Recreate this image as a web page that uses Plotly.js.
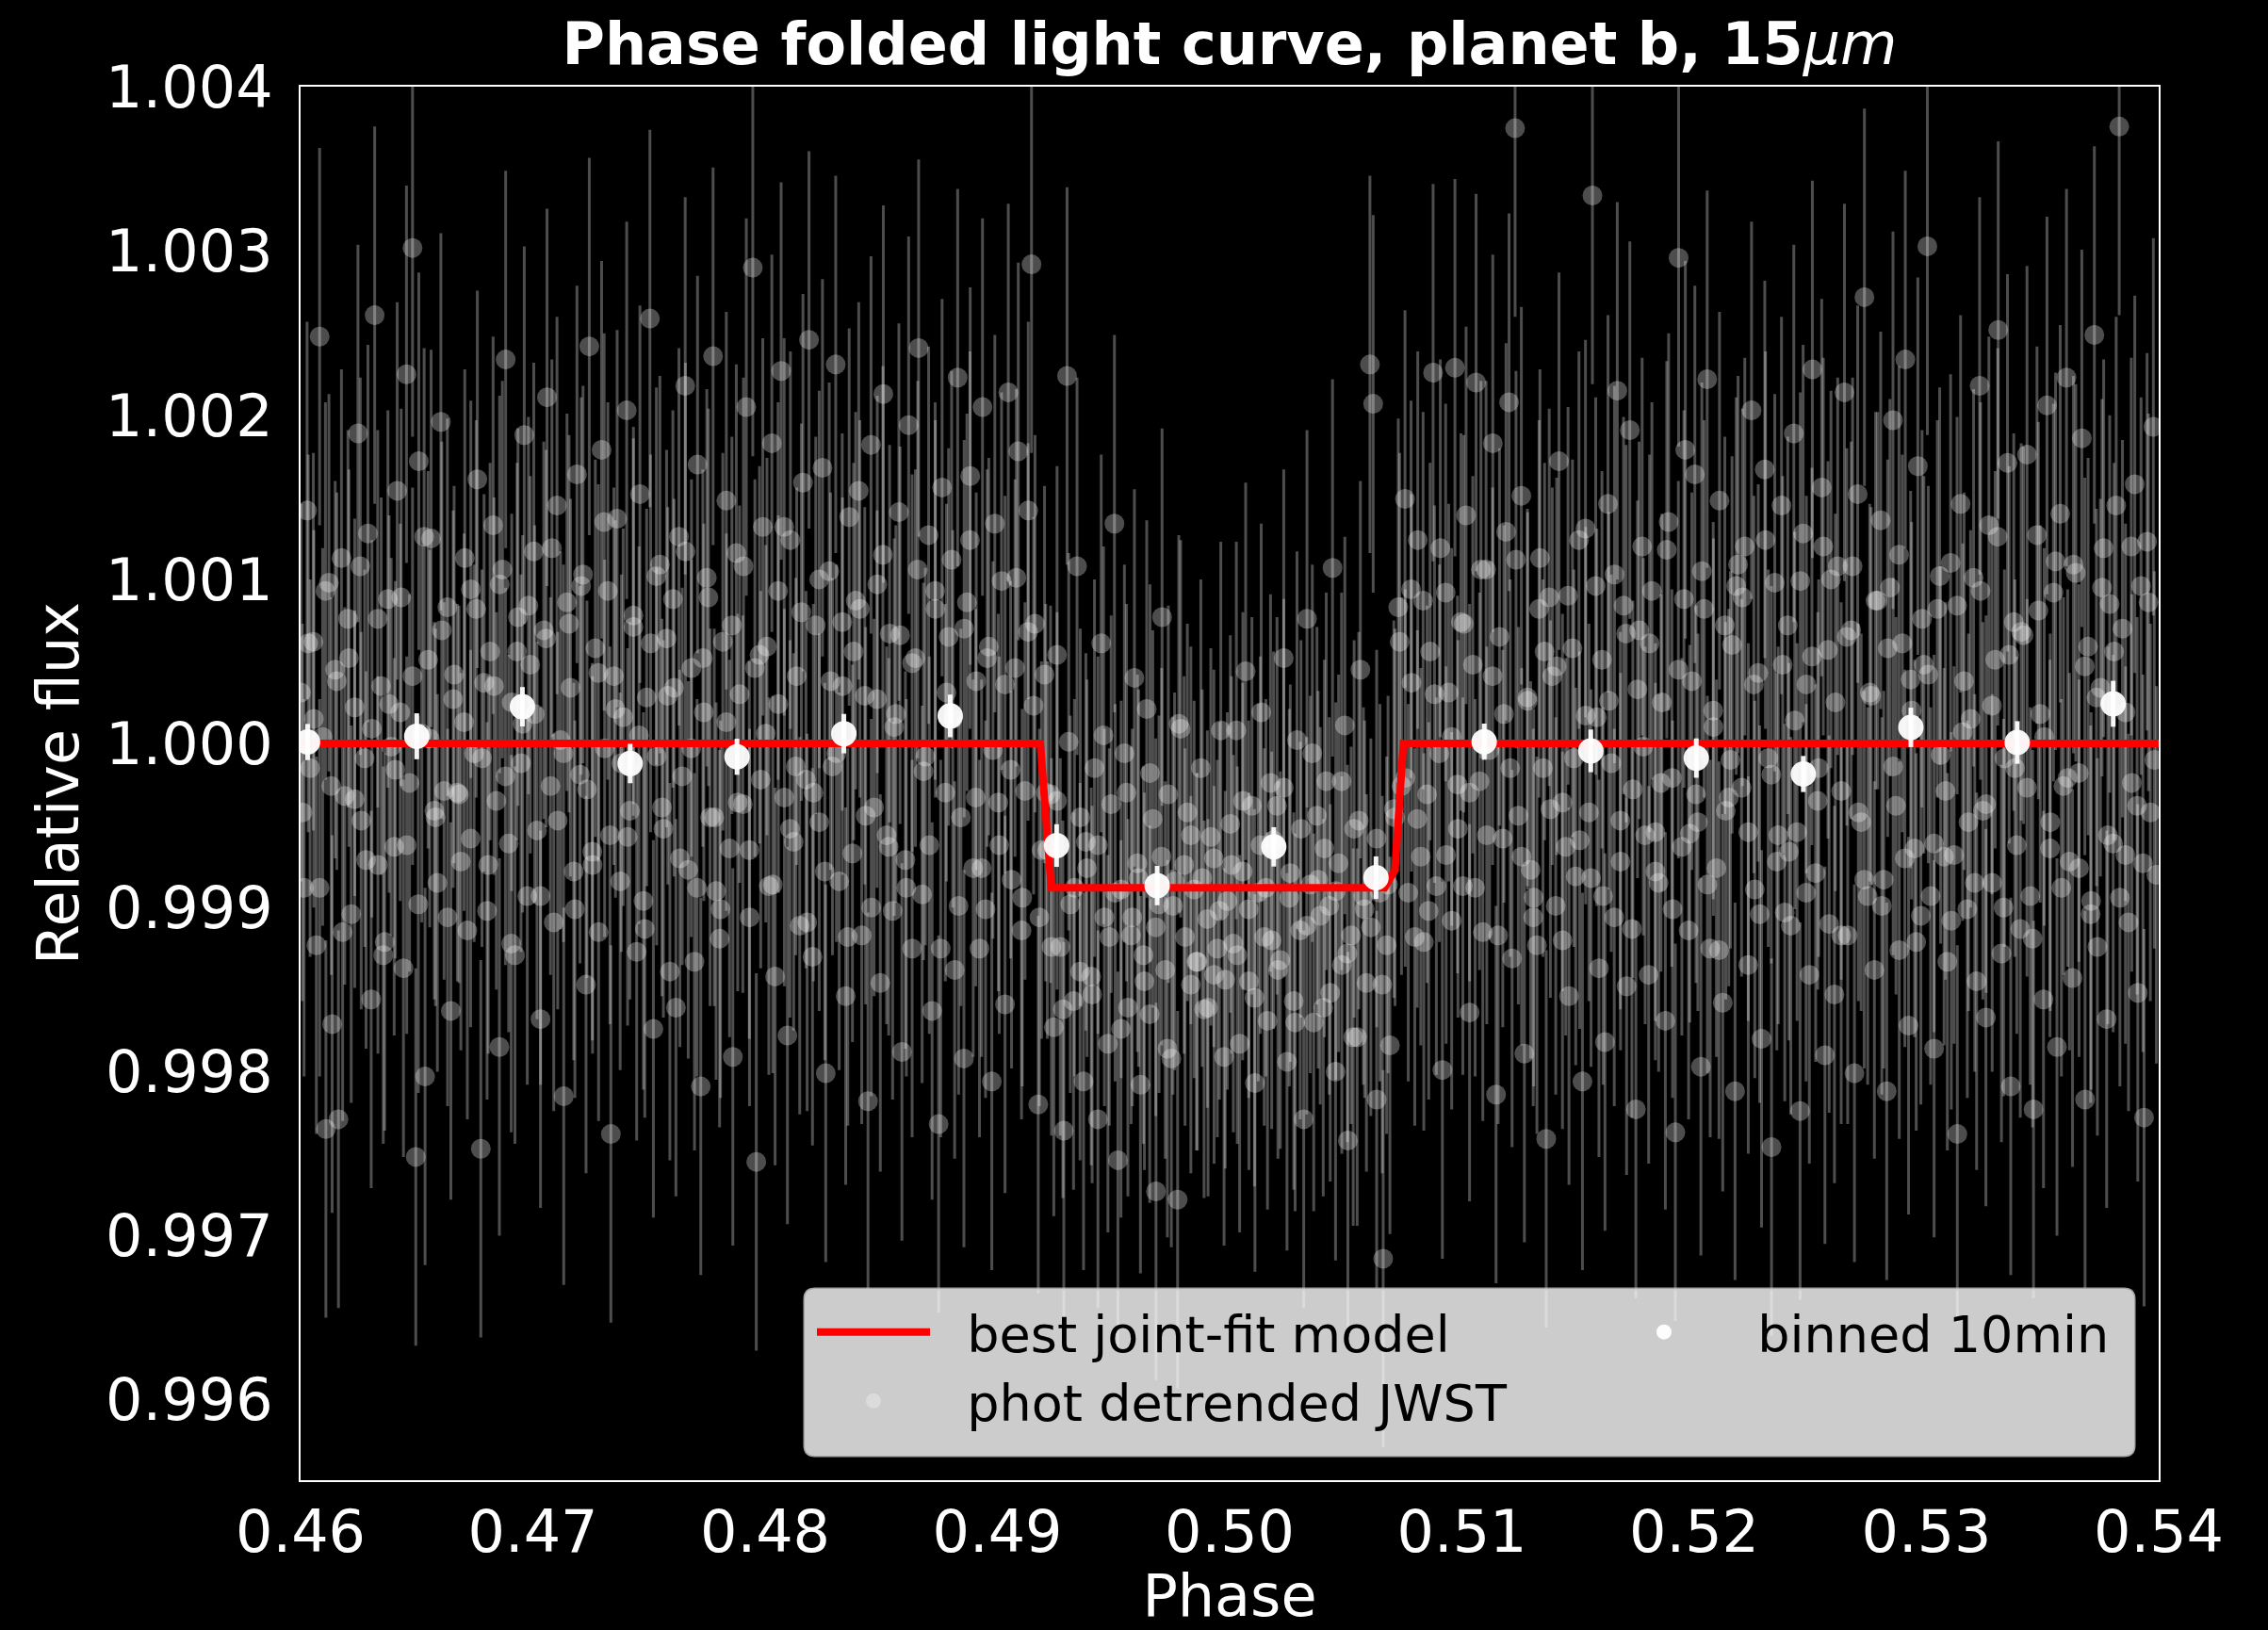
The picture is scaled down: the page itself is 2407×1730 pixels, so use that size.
<!DOCTYPE html>
<html>
<head>
<meta charset="utf-8">
<script src="https://cdn.plot.ly/plotly-3.0.1.min.js"></script>
<style>
html, body { margin: 0; padding: 0; background: #000; }
#chart { width: 2407px; height: 1730px; }
</style>
</head>
<body>
<div id="chart"></div>
<script>
// ---------------- DATA ----------------
// Unbinned photometry: phase offset from 0.46 in units of 1e-5, flux offset from 1 in ppm
const rawPhaseOffset = [
2,15,28,41,55,68,82,95,109,122,136,149,163,176,190,
204,218,233,247,261,276,290,304,319,333,347,362,376,390,
403,416,429,443,456,469,482,496,509,522,536,549,562,576,589,
604,618,632,647,661,675,690,704,718,733,747,761,776,790,
803,816,829,843,856,869,883,896,909,923,936,949,963,976,989,
1004,1018,1033,1047,1061,1076,1090,1104,1119,1133,1147,1162,1176,1190,
1203,1216,1229,1243,1256,1269,1283,1296,1309,1323,1336,1349,1363,1376,1389,
1404,1418,1433,1447,1461,1476,1490,1504,1519,1533,1547,1562,1576,1590,
1603,1616,1629,1643,1656,1669,1683,1696,1709,1723,1736,1749,1763,1776,1789,
1804,1818,1833,1847,1861,1876,1890,1904,1919,1933,1947,1962,1976,1990,
2003,2016,2029,2043,2056,2069,2083,2096,2109,2123,2136,2149,2163,2176,2189,
2204,2218,2233,2247,2261,2276,2290,2304,2319,2333,2347,2362,2376,2390,
2403,2416,2429,2443,2456,2469,2483,2496,2509,2523,2536,2549,2563,2576,2589,
2604,2618,2633,2647,2661,2676,2690,2704,2719,2733,2747,2762,2776,2790,
2803,2816,2829,2843,2856,2869,2883,2896,2909,2923,2936,2949,2963,2976,2989,
3004,3018,3033,3047,3061,3076,3090,3104,3119,3133,3147,3162,3176,3190,
3203,3215,3229,3243,3257,3271,3286,3300,3314,3328,3343,3357,3371,3386,
3404,3418,3433,3447,3461,3476,3490,3504,3519,3533,3547,3562,3576,3590,
3603,3616,3629,3643,3656,3669,3683,3696,3709,3723,3736,3749,3763,3776,3789,
3804,3818,3833,3847,3861,3876,3890,3904,3919,3933,3947,3962,3976,3990,
4003,4016,4029,4043,4056,4069,4083,4096,4109,4123,4136,4149,4163,4176,4189,
4204,4218,4233,4247,4261,4276,4290,4304,4319,4333,4347,4362,4376,4390,
4403,4416,4429,4443,4456,4469,4483,4496,4509,4523,4536,4549,4563,4576,4589,
4604,4618,4633,4647,4661,4676,4690,4712,4726,4740,4755,4769,4783,4797,
4810,4823,4836,4850,4863,4876,4890,4903,4916,4930,4943,4956,4970,4983,4996,
5004,5018,5033,5047,5061,5076,5090,5104,5119,5133,5147,5162,5176,5190,
5203,5216,5229,5243,5256,5269,5283,5296,5309,5323,5336,5349,5363,5376,5389,
5404,5418,5433,5447,5461,5476,5490,5504,5519,5533,5547,5562,5576,5590,
5603,5616,5629,5643,5656,5669,5683,5696,5709,5723,5736,5749,5763,5776,5789,
5804,5818,5833,5847,5861,5876,5890,5904,5919,5933,5947,5962,5976,5990,
6003,6016,6029,6043,6056,6069,6083,6096,6109,6123,6136,6149,6163,6176,6189,
6204,6218,6233,6247,6261,6276,6290,6304,6319,6333,6347,6362,6376,6390,
6403,6416,6429,6443,6456,6469,6483,6496,6509,6523,6536,6549,6563,6576,6589,
6604,6618,6633,6647,6661,6676,6690,6704,6719,6733,6747,6762,6776,6790,
6803,6816,6829,6843,6856,6869,6883,6896,6909,6923,6936,6949,6963,6976,6989,
7004,7018,7033,7047,7061,7076,7090,7104,7119,7133,7147,7162,7176,7190,
7203,7216,7229,7243,7256,7269,7283,7296,7309,7323,7336,7349,7363,7376,7389,
7404,7418,7433,7447,7461,7476,7490,7504,7519,7533,7547,7562,7576,7590,
7603,7616,7629,7643,7656,7669,7683,7696,7709,7723,7736,7749,7763,7776,7789,
7804,7817,7830,7844,7857,7870,7884,7897,7910,7924,7937,7950,7964,7977,7990
];
const rawFluxPpm = [
310,-880,1420,-150,620,-1230,2480,40,-2350,980,-1710,450,-2290,1130,-320,
760,-1040,220,1890,-470,-90,1280,-1560,2610,-740,350,-1210,880,-20,
-630,1540,190,-1370,2250,-240,3020,-2520,1720,60,-2030,510,1250,-410,-850,
1960,-290,830,-1630,420,-300,-720,130,-1140,940,-60,1610,-2470,370,
-1020,560,1330,-350,-1850,1060,2340,-610,250,-1290,770,-120,1880,-930,480,
1170,-530,-1680,690,2110,-260,-1090,1450,20,-2150,860,340,-780,1640,
-190,1030,-1470,2420,-660,580,-1150,1790,-30,930,-2380,410,1370,-840,160,
2030,-410,710,-1270,1520,-960,280,2590,-1740,-80,1090,-520,640,-1390,
880,-1610,1260,-200,2180,-770,460,-1330,1700,-2090,190,1010,-450,2360,-900,
-1190,620,1480,-640,-1910,1160,300,-370,2050,-1060,2900,-2550,540,1320,
60,-870,1830,-1420,930,2270,-330,-1780,1240,-600,410,-1110,1590,-220,2460,
-1300,720,-480,1680,-2010,1050,-140,2310,-840,350,-1540,1380,-670,870,
1540,-1170,290,-2180,1820,-390,970,-1460,2130,-560,670,-1020,180,1410,-1880,
-710,1940,-1250,520,2410,-920,-80,1270,-1630,820,-2320,1560,-300,650,
1120,-1380,2230,-450,-1920,860,1630,-760,380,-1250,2050,-1010,590,-2060,1340,
-360,990,-1590,2140,-830,460,1780,-1140,-290,1420,2920,730,-2200,-650,
420,-650,-310,-1730,540,-1240,-2360,2240,-980,-1570,1080,-450,-2060,-760,
-1420,-150,-2290,610,-1060,-1830,-370,1340,-2540,-890,-60,-1610,-1170,400,
-730,-2080,-1290,210,-1650,-460,-2730,-980,770,-1380,-310,-1920,-840,-2780,90,
-740,-420,-1470,-890,-1330,-150,-1620,-1070,-570,-1410,-1250,80,-1910,-960,
-490,-1220,80,-1830,-780,440,-1450,-380,-2070,-910,190,-1180,-1690,-240,-590,
-380,-1320,520,-1940,-790,-1570,20,-1140,-2290,760,-860,-1700,-440,-1050,
-1610,-230,-990,1070,-2000,-730,-1350,110,-2420,-1170,-520,-1790,450,-930,-1460,
2310,2070,-2170,-910,-3140,-1230,-1840,-450,830,-260,1490,-910,370,-1180,
1240,-690,-1210,-310,560,2260,-870,-60,-1990,920,310,-1080,2290,-520,740,
-870,1390,-1640,480,2200,-230,-1150,1060,-40,1830,-2140,650,-580,1290,
2080,-1310,3750,-440,1510,-1890,260,-770,-940,-1230,1130,-150,-2410,890,410,
-990,1720,-360,-630,-1540,580,-810,1240,-2060,170,-420,3340,960,-1370,
510,-1820,1460,-120,-1060,2150,-720,840,-1480,1910,-280,-2230,690,1200,-560,
-1410,930,-540,-850,250,-1690,1350,-210,-2370,2960,-630,1790,-1140,380,
1640,-480,-1970,820,2220,-1250,100,-760,1480,-1580,-410,-330,600,-2120,1090,
-270,1200,-1350,2030,-890,430,-1800,1670,-90,-2460,980,-560,1450,-1030,
720,-1110,1890,-540,-2240,1280,360,-1410,2280,-790,-150,1560,-1900,570,1000,
-1530,1080,-290,2140,-1170,690,-2010,1520,-480,2720,-930,290,-1380,870,
1360,-830,-2120,950,1970,-380,-1260,610,2340,-1720,200,-640,1690,-1050,480,
3030,-930,-1860,820,-70,-690,-1330,1100,-680,-2380,1460,380,-1010,150,
1010,-1450,2180,-410,-1670,1330,-850,510,2520,-1280,-90,1710,-2090,740,-620,
-1130,660,1760,-930,-2230,1270,180,-1560,2060,-480,920,-1850,1400,-260,
2230,-720,-1430,1040,-180,1860,-2170,590,-960,2490,-1240,340,1190,-1680,850,
-610,1450,3760,700,-680,-1090,-240,1580,-1520,960,-2280,1230,-420,1930,-800
];
// a second, interleaved set of exposures (same units)
const rawPhaseOffsetB = [
8,33,57,82,107,132,156,181, 208,233,257,282,307,332,356,381,
408,433,457,482,507,532,556,581, 608,633,657,682,707,732,756,781,
808,833,857,882,907,932,956,981, 1008,1033,1057,1082,1107,1132,1156,1181,
1208,1233,1257,1282,1307,1332,1356,1381, 1408,1433,1457,1482,1507,1532,1556,1581,
1608,1633,1657,1682,1707,1732,1756,1781, 1808,1833,1857,1882,1907,1932,1956,1981,
2008,2033,2057,2082,2107,2132,2156,2181, 2208,2233,2257,2282,2307,2332,2356,2381,
2408,2433,2457,2482,2507,2532,2556,2581, 2608,2633,2657,2682,2707,2732,2756,2781,
2808,2833,2857,2882,2907,2932,2956,2981, 3008,3033,3057,3082,3107,3132,3156,3181,
3208,3233,3257,3282,3307,3332,3356,3381, 3408,3433,3457,3482,3507,3532,3556,3581,
3608,3633,3657,3682,3707,3732,3756,3781, 3808,3833,3857,3882,3907,3932,3956,3981,
4008,4033,4057,4082,4107,4132,4156,4181, 4208,4233,4257,4282,4307,4332,4356,4381,
4408,4433,4457,4482,4507,4532,4556,4581, 4608,4633,4657,4682,4707,4732,4756,4781,
4808,4833,4857,4882,4907,4932,4956,4981, 5008,5033,5057,5082,5107,5132,5156,5181,
5208,5233,5257,5282,5307,5332,5356,5381, 5408,5433,5457,5482,5507,5532,5556,5581,
5608,5633,5657,5682,5707,5732,5756,5781, 5808,5833,5857,5882,5907,5932,5956,5981,
6008,6033,6057,6082,6107,6132,6156,6181, 6208,6233,6257,6282,6307,6332,6356,6381,
6408,6433,6457,6482,6507,6532,6556,6581, 6608,6633,6657,6682,6707,6732,6756,6781,
6808,6833,6857,6882,6907,6932,6956,6981, 7008,7033,7057,7082,7107,7132,7156,7181,
7208,7233,7257,7282,7307,7332,7356,7381, 7408,7433,7457,7482,7507,7532,7556,7581,
7608,7633,7657,7682,7707,7732,7756,7781, 7808,7833,7857,7882,7907,7932,7956,7981
];
const rawFluxPpmB = [
-420,610,150,-880,930,-260,380,-1150, 520,-340,1080,-710,90,760,-1290,240,
-160,890,-620,410,-980,1260,30,-450, 690,-1060,270,-310,1130,-580,820,-90,
-740,350,970,-200,-1220,560,120,840, 180,-930,640,1190,-470,-60,730,-1010,
960,-280,-740,430,1350,-560,210,-120, -570,780,50,-1130,610,1020,-390,290,
340,-700,1170,-30,-880,520,890,-450, -1010,130,720,-360,1080,-650,460,-220,
590,-860,240,1320,-520,-140,800,-1090, -300,1000,-780,380,-60,740,-1180,560,
820,-440,-1000,270,1150,-630,100,660, -880,490,1060,-170,-620,930,-1250,310,
150,-990,700,1240,-330,-760,520,-40, -620,360,-160,1010,-940,680,230,-1060,
-300,-1240,-350,-1620,10,-880,-1390,-600, -1530,-620,50,-1180,-910,-1740,-300,-1060,
-820,-1450,-180,-1120,-690,-1860,-990,120, -1180,-560,-1330,-820,-1610,-700,-1020,-1440,
-740,-1290,-350,-1010,-1550,-620,-880,-1200, -1380,-270,-940,-1700,-520,-1110,-60,-830,
-640,-1520,-900,-230,-1280,-1790,-470,-1010, -1120,-580,-1470,-860,-400,620,-210,940,
-460,870,-1020,300,1190,-680,40,-250, 730,-300,-880,1060,-560,410,-1170,180,
-150,1120,-690,280,-1060,820,560,-400, 470,-1200,900,-90,-590,1310,-820,160,
-930,260,1030,-470,670,-1130,330,-20, 610,-780,-240,1180,-1010,450,880,-550,
-310,1050,-860,200,-1260,720,-100,960, 890,-540,360,-1040,1240,-190,-720,480,
-660,140,990,-910,530,-350,1200,-1100, 250,-1170,650,1080,-420,-830,310,870,
-990,580,-140,1150,-700,390,-1210,760, 420,-610,1020,-290,-1080,840,70,-480,
-850,930,-370,230,1260,-1000,540,-150, 680,-270,-1190,810,40,-640,1110,-880,
-210,1090,-760,470,-1040,280,950,-560, 560,-940,190,1200,-380,-730,860,-100
];
const rawErrPpm = 1150;

// 10-minute binned points
const binPhase = [0.46030,0.46500,0.46955,0.47419,0.47879,0.48339,0.48797,0.49255,0.49688,
                  0.50190,0.50630,0.51096,0.51555,0.52009,0.52470,0.52933,0.53391,0.53804];
const binFlux  = [1.000009,1.000044,1.000224,0.999878,0.999919,1.000060,1.000168,0.999378,0.999134,
                  0.999370,0.999182,1.000011,0.999955,0.999911,0.999814,1.000098,1.000006,1.000242];
const binErr   = [0.00011,0.00014,0.00012,0.00012,0.00011,0.00012,0.00013,0.00013,0.00012,
                  0.00012,0.00013,0.00011,0.00013,0.00012,0.00011,0.00012,0.00013,0.00014];

// Best joint-fit eclipse model
const modelPhase = [0.46, 0.49185, 0.49232, 0.50667, 0.50712, 0.50748, 0.54];
const modelFlux  = [1.0, 1.0, 0.99912, 0.99912, 0.99923, 1.0, 1.0];

// Axis ticks
const xTickVals = [0.46,0.47,0.48,0.49,0.50,0.51,0.52,0.53,0.54];
const xTickText = ['0.46','0.47','0.48','0.49','0.50','0.51','0.52','0.53','0.54'];
const yTickVals = [0.996,0.997,0.998,0.999,1.000,1.001,1.002,1.003,1.004];
const yTickText = ['0.996','0.997','0.998','0.999','1.000','1.001','1.002','1.003','1.004'];

// ---------------- FIGURE ----------------
const nA = Math.min(rawPhaseOffset.length, rawFluxPpm.length);
const nB = Math.min(rawPhaseOffsetB.length, rawFluxPpmB.length);
const rawX = rawPhaseOffset.slice(0, nA).concat(rawPhaseOffsetB.slice(0, nB)).map(v => 0.46 + v * 1e-5);
const rawY = rawFluxPpm.slice(0, nA).concat(rawFluxPpmB.slice(0, nB)).map(v => 1 + v * 1e-6);

const FONT = 'DejaVu Sans, Verdana, sans-serif';
const W = 2407, H = 1730;
const plotL = 319, plotR = 2291, plotT = 91.5, plotB = 1571;
const PAD = '\u00a0\u00a0';

const traces = [
  {
    type: 'scatter', mode: 'markers', name: PAD + 'phot detrended JWST',
    x: rawX, y: rawY,
    marker: { size: 21, color: 'rgba(255,255,255,0.30)', line: { width: 0 } },
    error_y: { type: 'constant', value: rawErrPpm * 1e-6, color: 'rgba(255,255,255,0.30)', thickness: 3, width: 0 },
    legendrank: 3, hoverinfo: 'skip'
  },
  {
    type: 'scatter', mode: 'lines', name: PAD + 'best joint-fit model',
    x: modelPhase, y: modelFlux,
    line: { color: '#ff0000', width: 8 },
    legendrank: 1
  },
  {
    type: 'scatter', mode: 'markers', name: PAD + 'binned 10min',
    x: binPhase, y: binFlux,
    marker: { size: 27, color: 'rgba(255,255,255,0.95)', line: { width: 0 } },
    error_y: { type: 'data', array: binErr, color: 'rgba(255,255,255,0.95)', thickness: 5, width: 0 },
    legendrank: 2
  }
];

// rounded legend frame (paper coordinates of the plot area)
function px2x(p) { return (p - plotL) / (plotR - plotL); }
function px2y(p) { return (plotB - p) / (plotB - plotT); }
const bx0 = px2x(854), bx1 = px2x(2265), byTop = px2y(1368), byBot = px2y(1545);
const rx = 11 / (plotR - plotL), ry = 11 / (plotB - plotT);
const framePath =
  `M ${bx0 + rx},${byBot} L ${bx1 - rx},${byBot} Q ${bx1},${byBot} ${bx1},${byBot + ry} ` +
  `L ${bx1},${byTop - ry} Q ${bx1},${byTop} ${bx1 - rx},${byTop} ` +
  `L ${bx0 + rx},${byTop} Q ${bx0},${byTop} ${bx0},${byTop - ry} ` +
  `L ${bx0},${byBot + ry} Q ${bx0},${byBot} ${bx0 + rx},${byBot} Z`;

const layout = {
  width: W, height: H,
  paper_bgcolor: '#000000', plot_bgcolor: '#000000',
  margin: { l: plotL, r: W - plotR, t: plotT, b: H - plotB, pad: 0, autoexpand: false },
  font: { family: FONT, color: '#ffffff', size: 62 },
  title: {
    text: '<b>Phase folded light curve, planet b, 15</b><i>μm</i>',
    font: { family: FONT, size: 62, color: '#ffffff' },
    x: 0.5, xref: 'paper', xanchor: 'center',
    y: 1 - 46 / H, yref: 'container', yanchor: 'middle'
  },
  xaxis: {
    range: [0.46, 0.54], tickvals: xTickVals, ticktext: xTickText, automargin: false,
    ticks: '', showline: true, mirror: true, linecolor: '#ffffff', linewidth: 2,
    showgrid: false, zeroline: false,
    tickfont: { family: FONT, size: 62, color: '#ffffff' },
    title: { text: 'Phase', font: { family: FONT, size: 62, color: '#ffffff' }, standoff: 39 }
  },
  yaxis: {
    range: [0.99551, 1.004003], tickvals: yTickVals, ticktext: yTickText, automargin: false,
    ticks: 'outside', ticklen: 15, tickwidth: 2, tickcolor: 'rgba(0,0,0,0)',
    showline: true, mirror: true, linecolor: '#ffffff', linewidth: 2,
    showgrid: false, zeroline: false,
    tickfont: { family: FONT, size: 62, color: '#ffffff' },
    title: { text: 'Relative flux', font: { family: FONT, size: 62, color: '#ffffff' }, standoff: 8 }
  },
  showlegend: true,
  legend: {
    orientation: 'h', xref: 'paper', yref: 'paper',
    x: px2x(862), y: px2y(1372), xanchor: 'left', yanchor: 'top',
    bgcolor: 'rgba(0,0,0,0)', borderwidth: 0,
    font: { family: FONT, size: 54, color: '#000000' },
    itemwidth: 120, entrywidth: 704, traceorder: 'normal', itemsizing: 'trace'
  },
  shapes: [{
    type: 'path', xref: 'paper', yref: 'paper', layer: 'above',
    path: framePath,
    fillcolor: 'rgba(255,255,255,0.8)',
    line: { color: 'rgba(204,204,204,0.8)', width: 3 }
  }]
};

Plotly.newPlot('chart', traces, layout, { displayModeBar: false, responsive: false });
</script>
</body>
</html>
